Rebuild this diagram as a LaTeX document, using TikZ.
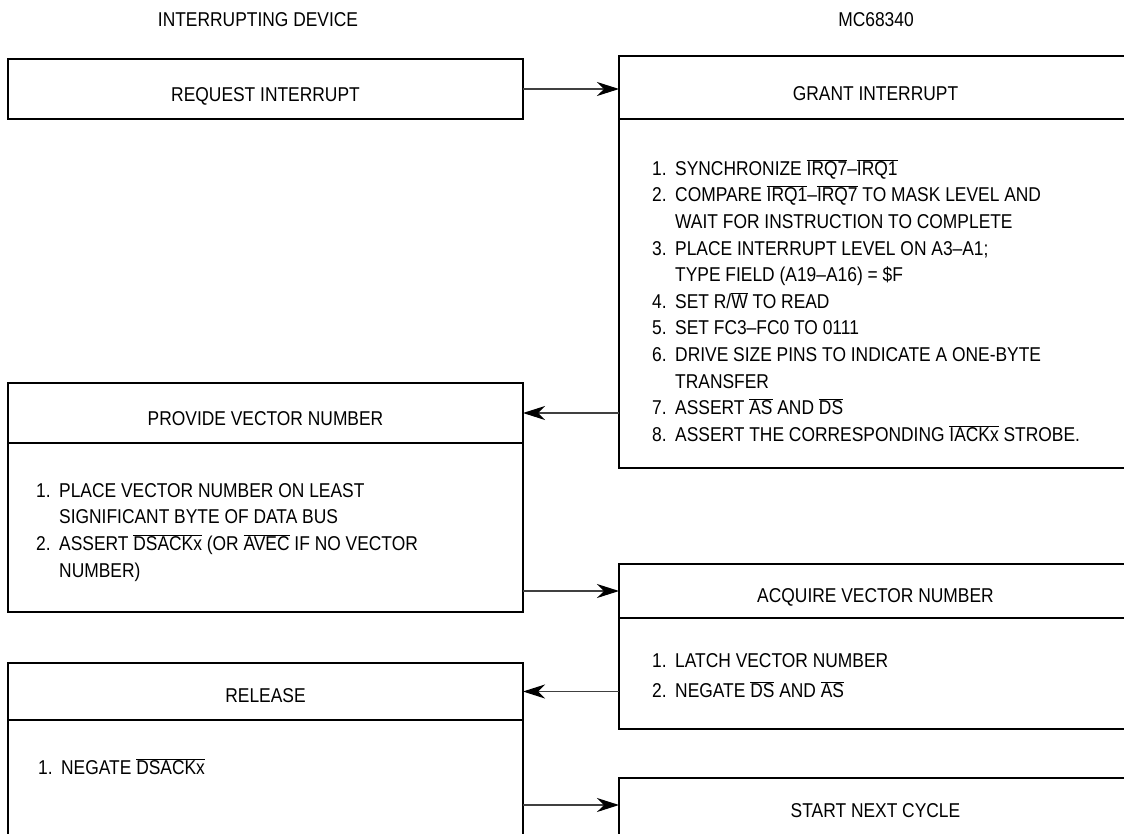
\documentclass[tikz,border=0pt]{standalone}
\usepackage{fontspec}
\setmainfont{Liberation Sans}[FakeStretch=0.87]
\usepackage{tikz}
\usetikzlibrary{arrows.meta}
\usetikzlibrary{positioning}

\newcommand{\negsig}[1]{$\overline{\mbox{#1}}$}
\newcommand{\itm}[1]{\makebox[23pt][l]{#1}}
\newcommand{\cont}{\hspace*{23pt}}

\tikzset{
    box/.style = {draw, line width=1.8pt, inner sep=0pt, outer sep=0pt, anchor=north west},
    steps/.style = {align=left, inner sep=0pt, anchor=north west},
    flow/.style = {-{Stealth[length=22pt, width=14pt, inset=7pt, black]}, line width=1.1pt, black!75}
}

\begin{document}
\begin{tikzpicture}[x=1pt, y=-1pt, font=\fontsize{20pt}{26.6pt}\selectfont]
        \useasboundingbox (0, 0) rectangle (1124, 833);
        \clip (0, 0) rectangle (1124, 833);

        \node[anchor=base] (devhd) at (258, 26) {INTERRUPTING DEVICE};
        \node[anchor=base] (cpuhd) at (876, 26) {MC68340};

        % interrupting device side
        \node[box, minimum width=515pt, text height=42pt, text depth=18pt] (req) at (8, 59) {REQUEST INTERRUPT};
        \node[box, minimum width=515pt, text height=42pt, text depth=18pt] (phead) at (8, 383) {PROVIDE VECTOR NUMBER};
        \node[box, minimum width=515pt, minimum height=169pt] (pbody) at (phead.south west) {};
        \node[box, minimum width=515pt, text height=39pt, text depth=18pt] (rhead) at (8, 663) {RELEASE};
        \node[box, minimum width=515pt, minimum height=140pt] (rbody) at (rhead.south west) {};

        % MC68340 side
        \node[box, minimum width=513pt, text height=44pt, text depth=19pt] (ghead) at (619, 56) {GRANT INTERRUPT};
        \node[box, minimum width=513pt, minimum height=349pt] (gbody) at (ghead.south west) {};
        \node[box, minimum width=513pt, text height=38pt, text depth=16pt] (ahead) at (619, 564) {ACQUIRE VECTOR NUMBER};
        \node[box, minimum width=513pt, minimum height=111pt] (abody) at (ahead.south west) {};
        \node[box, minimum width=513pt, text height=39pt, text depth=30pt] (shead) at (619, 778) {START NEXT CYCLE};

        % step lists
        \node[steps] (glist) at (652, 156) {\rule{0pt}{19pt}\itm{1.}SYNCHRONIZE \negsig{IRQ7}–\negsig{IRQ1}\\
            \itm{2.}COMPARE \negsig{IRQ1}–\negsig{IRQ7} TO MASK LEVEL AND\\
            \cont WAIT FOR INSTRUCTION TO COMPLETE\\
            \itm{3.}PLACE INTERRUPT LEVEL ON A3–A1;\\
            \cont TYPE FIELD (A19–A16) = \$F\\
            \itm{4.}SET R/\negsig{W} TO READ\\
            \itm{5.}SET FC3–FC0 TO 0111\\
            \itm{6.}DRIVE SIZE PINS TO INDICATE A ONE-BYTE\\
            \cont TRANSFER\\
            \itm{7.}ASSERT \negsig{AS} AND \negsig{DS}\\
            \itm{8.}ASSERT THE CORRESPONDING \negsig{IACKx} STROBE.};
        \node[steps] (plist) at (36, 478) {\rule{0pt}{19pt}\itm{1.}PLACE VECTOR NUMBER ON LEAST\\
            \cont SIGNIFICANT BYTE OF DATA BUS\\
            \itm{2.}ASSERT \negsig{DSACKx} (OR \negsig{AVEC} IF NO VECTOR\\
            \cont NUMBER)};
        \node[steps, font=\fontsize{20pt}{30pt}\selectfont] (alist) at (652, 648) {\rule{0pt}{19pt}\itm{1.}LATCH VECTOR NUMBER\\
            \itm{2.}NEGATE \negsig{DS} AND \negsig{AS}};
        \node[steps] (rlist) at (38, 755) {\rule{0pt}{19pt}\itm{1.}NEGATE \negsig{DSACKx}};

        % handshake arrows
        \coordinate (nxt) at ([yshift=-27pt]shead.north west);
        \draw[flow] (req.east) -- (req.east -| ghead.west);
        \draw[flow] (phead.east -| gbody.west) -- (phead.east);
        \draw[flow] (pbody.east |- ahead.west) -- (ahead.west);
        \draw[flow] (abody.west |- rhead.east) -- (rhead.east);
        \draw[flow] (rbody.east |- nxt) -- (nxt);
\end{tikzpicture}
\end{document}
